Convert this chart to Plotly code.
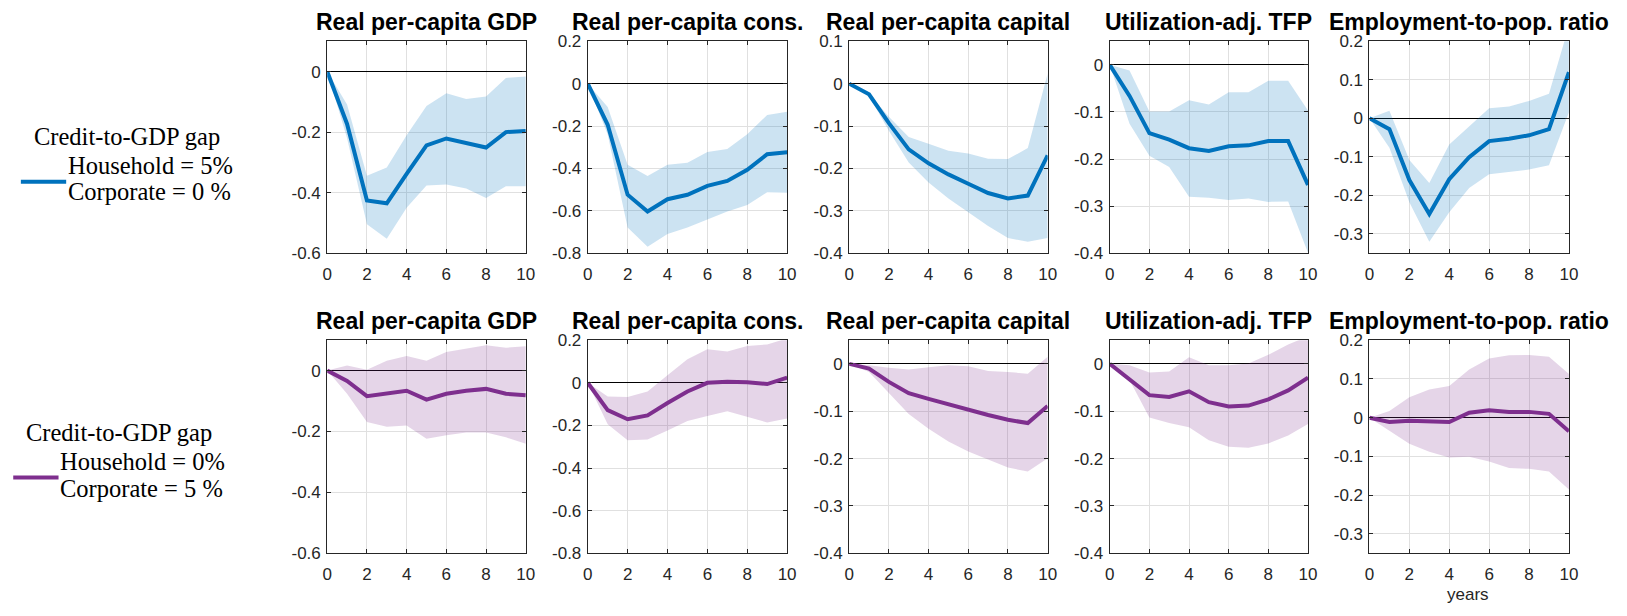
import plotly.graph_objects as go

W, H = 1627, 616

horizon = [0, 1, 2, 3, 4, 5, 6, 7, 8, 9, 10]
x_ticks = [0, 2, 4, 6, 8, 10]
x_ticktext = ["0", "2", "4", "6", "8", "10"]

titles = ["Real per-capita GDP", "Real per-capita cons.", "Real per-capita capital",
          "Utilization-adj. TFP", "Employment-to-pop. ratio"]

# ---- Household credit gap shock (top row) ----
hh_gdp    = [0, -0.173, -0.426, -0.435, -0.338, -0.244, -0.221, -0.237, -0.251, -0.200, -0.196]
hh_gdp_hi = [0, -0.109, -0.344, -0.317, -0.210, -0.114, -0.072, -0.091, -0.082, -0.021, -0.016]
hh_gdp_lo = [0, -0.220, -0.504, -0.552, -0.450, -0.376, -0.373, -0.386, -0.418, -0.379, -0.379]

hh_cons    = [0, -0.194, -0.524, -0.603, -0.545, -0.524, -0.482, -0.459, -0.406, -0.333, -0.324]
hh_cons_hi = [0, -0.110, -0.383, -0.436, -0.383, -0.373, -0.323, -0.308, -0.239, -0.148, -0.133]
hh_cons_lo = [0, -0.240, -0.679, -0.770, -0.709, -0.679, -0.641, -0.603, -0.573, -0.512, -0.515]

hh_cap    = [0, -0.025, -0.093, -0.155, -0.188, -0.214, -0.236, -0.258, -0.271, -0.264, -0.169]
hh_cap_hi = [0, -0.023, -0.078, -0.126, -0.142, -0.158, -0.165, -0.177, -0.178, -0.152, 0.024]
hh_cap_lo = [0, -0.029, -0.111, -0.186, -0.233, -0.271, -0.303, -0.336, -0.364, -0.373, -0.364]

hh_tfp    = [0, -0.066, -0.145, -0.159, -0.177, -0.183, -0.173, -0.171, -0.162, -0.162, -0.255]
hh_tfp_hi = [0, -0.012, -0.099, -0.099, -0.075, -0.084, -0.058, -0.058, -0.034, -0.034, -0.097]
hh_tfp_lo = [0, -0.125, -0.193, -0.217, -0.280, -0.282, -0.287, -0.284, -0.291, -0.290, -0.399]

hh_emp    = [0, -0.028, -0.160, -0.248, -0.158, -0.101, -0.059, -0.053, -0.044, -0.028, 0.120]
hh_emp_hi = [0, 0.020, -0.108, -0.168, -0.068, -0.022, 0.026, 0.031, 0.045, 0.064, 0.240]
hh_emp_lo = [0, -0.076, -0.218, -0.320, -0.244, -0.181, -0.145, -0.139, -0.133, -0.122, 0.016]

# ---- Corporate credit gap shock (bottom row) ----
co_gdp    = [0, -0.034, -0.084, -0.076, -0.066, -0.095, -0.076, -0.066, -0.060, -0.076, -0.081]
co_gdp_hi = [0, 0.017, 0.003, 0.032, 0.048, 0.032, 0.061, 0.072, 0.083, 0.075, 0.080]
co_gdp_lo = [0, -0.076, -0.169, -0.184, -0.180, -0.224, -0.212, -0.203, -0.203, -0.219, -0.240]

co_cons    = [0, -0.128, -0.171, -0.153, -0.095, -0.041, 0.000, 0.005, 0.003, -0.006, 0.024]
co_cons_hi = [0, -0.064, -0.067, -0.041, 0.035, 0.111, 0.157, 0.147, 0.173, 0.180, 0.208]
co_cons_lo = [0, -0.194, -0.270, -0.266, -0.224, -0.179, -0.156, -0.133, -0.159, -0.186, -0.168]

co_cap    = [0, -0.010, -0.038, -0.062, -0.074, -0.086, -0.096, -0.108, -0.118, -0.125, -0.089]
co_cap_hi = [0, -0.003, -0.008, -0.012, -0.007, -0.003, -0.005, -0.015, -0.017, -0.021, 0.015]
co_cap_lo = [0, -0.017, -0.062, -0.106, -0.137, -0.164, -0.185, -0.202, -0.219, -0.227, -0.199]

co_tfp    = [0, -0.034, -0.066, -0.070, -0.058, -0.081, -0.090, -0.088, -0.075, -0.056, -0.029]
co_tfp_hi = [0, -0.003, -0.018, -0.016, 0.014, -0.003, -0.003, 0.001, 0.019, 0.041, 0.058]
co_tfp_lo = [0, -0.034, -0.113, -0.125, -0.134, -0.161, -0.175, -0.177, -0.168, -0.151, -0.127]

co_emp    = [0, -0.011, -0.008, -0.010, -0.011, 0.013, 0.019, 0.015, 0.015, 0.010, -0.035]
co_emp_hi = [0, 0.017, 0.053, 0.073, 0.082, 0.124, 0.153, 0.161, 0.162, 0.157, 0.113]
co_emp_lo = [0, -0.034, -0.067, -0.088, -0.103, -0.101, -0.113, -0.130, -0.132, -0.139, -0.185]

# y-axis ranges and ticks
top_ranges = [[-0.6, 0.1], [-0.8, 0.2], [-0.4, 0.1], [-0.4, 0.05], [-0.35, 0.2]]
bot_ranges = [[-0.6, 0.1], [-0.8, 0.2], [-0.4, 0.05], [-0.4, 0.05], [-0.35, 0.2]]
top_yticks = [[-0.6, -0.4, -0.2, 0], [-0.8, -0.6, -0.4, -0.2, 0, 0.2],
              [-0.4, -0.3, -0.2, -0.1, 0, 0.1], [-0.4, -0.3, -0.2, -0.1, 0],
              [-0.3, -0.2, -0.1, 0, 0.1, 0.2]]
bot_yticks = [[-0.6, -0.4, -0.2, 0], [-0.8, -0.6, -0.4, -0.2, 0, 0.2],
              [-0.4, -0.3, -0.2, -0.1, 0], [-0.4, -0.3, -0.2, -0.1, 0],
              [-0.3, -0.2, -0.1, 0, 0.1, 0.2]]

top_series = [(hh_gdp, hh_gdp_lo, hh_gdp_hi), (hh_cons, hh_cons_lo, hh_cons_hi),
              (hh_cap, hh_cap_lo, hh_cap_hi), (hh_tfp, hh_tfp_lo, hh_tfp_hi),
              (hh_emp, hh_emp_lo, hh_emp_hi)]
bot_series = [(co_gdp, co_gdp_lo, co_gdp_hi), (co_cons, co_cons_lo, co_cons_hi),
              (co_cap, co_cap_lo, co_cap_hi), (co_tfp, co_tfp_lo, co_tfp_hi),
              (co_emp, co_emp_lo, co_emp_hi)]

BLUE = "#0072BD"
BLUE_BAND = "rgba(0,114,189,0.2)"
PURPLE = "#7E2F8E"
PURPLE_BAND = "rgba(126,47,142,0.2)"
AX = "#262626"
GRID = "#e0e0e0"

# layout geometry (pixels)
col_px = [(325, 525.3), (587.8, 788.9), (851.5, 1051.7), (1114.3, 1314.3), (1376.3, 1577.5)]
row_px = [(33.3, 252), (341.7, 561.7)]


def fx(p):
    return p / W


def fy(p):
    return 1 - p / H


def fmt(v):
    if abs(v) < 1e-12:
        return "0"
    return "%.1f" % v


fig = go.Figure()
layout = dict()
annotations = []

for r, (series, ranges, yticks, lc, bc) in enumerate([
        (top_series, top_ranges, top_yticks, BLUE, BLUE_BAND),
        (bot_series, bot_ranges, bot_yticks, PURPLE, PURPLE_BAND)]):
    for c in range(5):
        idx = r * 5 + c + 1
        xa = "x" if idx == 1 else "x%d" % idx
        ya = "y" if idx == 1 else "y%d" % idx
        mid, lo, hi = series[c]
        fig.add_trace(go.Scatter(
            x=horizon + horizon[::-1], y=hi + lo[::-1], fill="toself",
            fillcolor=bc, line=dict(width=0), mode="lines",
            hoverinfo="skip", showlegend=False, xaxis=xa, yaxis=ya))
        fig.add_trace(go.Scatter(
            x=horizon, y=mid, mode="lines", line=dict(color=lc, width=4),
            showlegend=False, xaxis=xa, yaxis=ya))
        x0, x1 = col_px[c]
        ytop, ybot = row_px[r]
        common = dict(showline=True, linecolor=AX, linewidth=1, mirror="ticks",
                      ticks="inside", ticklen=4, tickcolor=AX,
                      showgrid=True, gridcolor=GRID, gridwidth=1,
                      tickfont=dict(family="Liberation Sans, Arial", size=17, color=AX))
        layout["xaxis" if idx == 1 else "xaxis%d" % idx] = dict(
            domain=[fx(x0), fx(x1)], anchor=ya, range=[0, 10],
            tickvals=x_ticks, ticktext=x_ticktext, zeroline=False,
            ticklabelstandoff=5, **common)
        layout["yaxis" if idx == 1 else "yaxis%d" % idx] = dict(
            domain=[fy(ybot), fy(ytop)], anchor=xa, range=ranges[c],
            tickvals=yticks[c], ticktext=[fmt(v) for v in yticks[c]],
            zeroline=True, zerolinecolor="#000000", zerolinewidth=1,
            ticklabelstandoff=2, **common)
        annotations.append(dict(
            text="<b>%s</b>" % titles[c], xref="paper", yref="paper",
            x=fx((x0 + x1) / 2), y=fy(ytop - 4), xanchor="center", yanchor="bottom",
            showarrow=False,
            font=dict(family="Liberation Sans, Arial", size=23, color="#000000")))

serif = dict(family="Liberation Serif, Times New Roman", size=24.5, color="#000000")
leg_text = [
    ("Credit-to-GDP gap", 27.5, 131.7),
    ("Household = 5%", 62, 161.7),
    ("Corporate = 0 %", 62, 188.3),
    ("Credit-to-GDP gap", 19, 436.7),
    ("Household = 0%", 53.5, 467.3),
    ("Corporate = 5 %", 53.5, 495),
]
for t, xp, yp in leg_text:
    annotations.append(dict(text=t, xref="paper", yref="paper", x=fx(xp), y=fy(yp),
                            xanchor="left", yanchor="middle", showarrow=False, font=serif))

annotations.append(dict(text="years", xref="paper", yref="paper", x=fx(1475.3), y=0,
                        xanchor="center", yanchor="bottom", showarrow=False,
                        font=dict(family="Liberation Sans, Arial", size=17, color=AX)))

shapes = [
    dict(type="line", xref="paper", yref="paper", x0=fx(16), x1=fx(61.7), y0=fy(178.3), y1=fy(178.3),
         line=dict(color=BLUE, width=4)),
    dict(type="line", xref="paper", yref="paper", x0=fx(8.3), x1=fx(54), y0=fy(483.3), y1=fy(483.3),
         line=dict(color=PURPLE, width=4)),
]

fig.update_layout(width=W, height=H, margin=dict(l=0, r=0, t=0, b=0),
                  paper_bgcolor="white", plot_bgcolor="white",
                  annotations=annotations, shapes=shapes, showlegend=False, **layout)

fig.write_html("out.html", config={"displayModeBar": False},
               post_script="document.body.style.margin='0';document.body.style.overflow='hidden';")
